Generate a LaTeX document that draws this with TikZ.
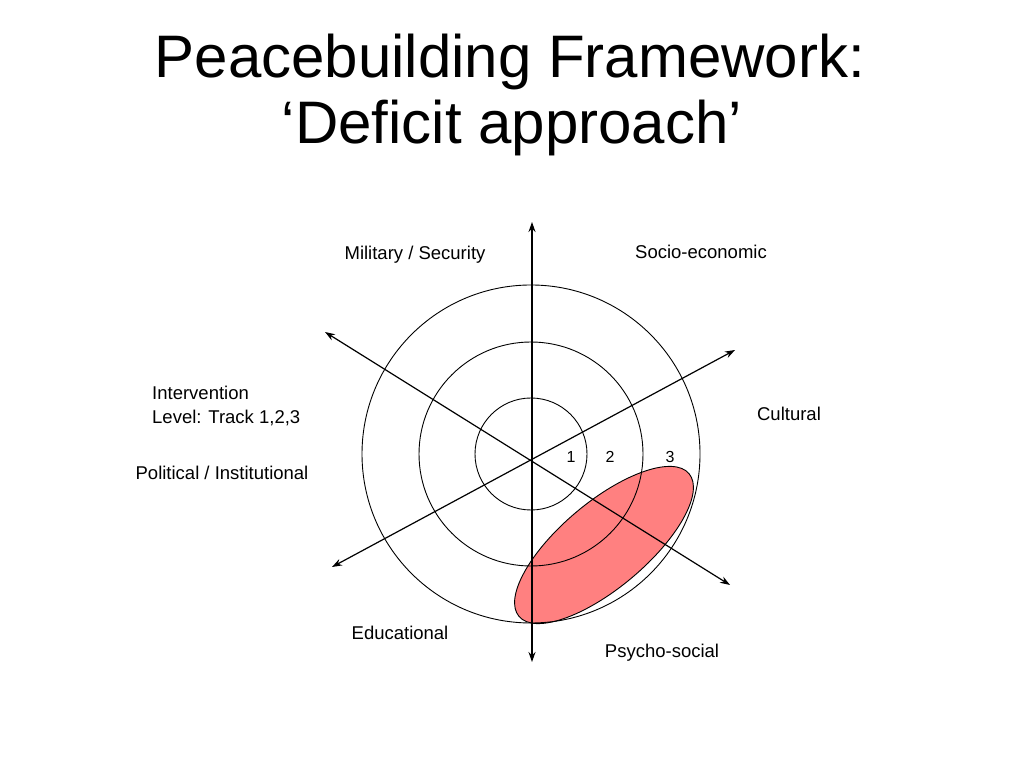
\documentclass[tikz,border=0pt]{standalone}
\usepackage{fontspec}
\setmainfont{Liberation Sans}
\usetikzlibrary{arrows.meta}
\definecolor{deficitred}{HTML}{FF8080}
\tikzset{axis/.style={line width=1.2pt, {Stealth[length=10pt,width=7pt]}-{Stealth[length=10pt,width=7pt]}},
 ring/.style={draw=black, line width=0.9pt},
 deficit/.style={draw=black, line width=0.9pt, fill=deficitred},
 dimtext/.style={font=\fontsize{18.5}{22}\selectfont, inner sep=0pt},
 ringnum/.style={font=\fontsize{16}{19}\selectfont, inner sep=0pt},
 titletext/.style={font=\fontsize{60}{68}\selectfont, inner sep=0pt},
 }

\begin{document}
\begin{tikzpicture}[x=1pt, y=1pt]
        \useasboundingbox (0,0) rectangle (1024,768);
        \node[titletext] (title1) at (510,706) {Peacebuilding Framework:};
        \node[titletext] (title2) at (512,640) {‘Deficit approach’};
        % deficit area
        \draw[deficit] (604,223) ellipse[x radius=111, y radius=43, rotate=40];
        % rings 1,2,3
        \coordinate (rings) at (531,314);
        \foreach \r in {56,112,169} {
            \draw[ring] (rings) circle (\r);
        }
        \foreach \x[count=\i] in {571,610,670} {
            \node[ringnum] (num\i) at (\x,311) {\i};
        }
        % axes
        \coordinate (north) at (532,546);
        \coordinate (south) at (532,106);
        \coordinate (nw) at (325,436);
        \coordinate (se) at (730,183);
        \coordinate (sw) at (332,201);
        \coordinate (ne) at (735,418);
        \foreach \a/\b in {north/south, nw/se, sw/ne} {
            \draw[axis] (\a) -- (\b);
        }
        % dimensions
        \node[dimtext] (military) at (415,513) {Military / Security};
        \node[dimtext] (socio) at (701,516) {Socio-economic};
        \node[dimtext] (cultural) at (789,354) {Cultural};
        \node[dimtext, anchor=west] (interv) at (152,375) {Intervention};
        \node[dimtext, anchor=west] (level) at (152,350) {Level: Track 1,2,3};
        \node[dimtext] (political) at (222,295) {Political / Institutional};
        \node[dimtext] (educ) at (400,135) {Educational};
        \node[dimtext] (psycho) at (662,115) {Psycho-social};
    \end{tikzpicture}
\end{document}
